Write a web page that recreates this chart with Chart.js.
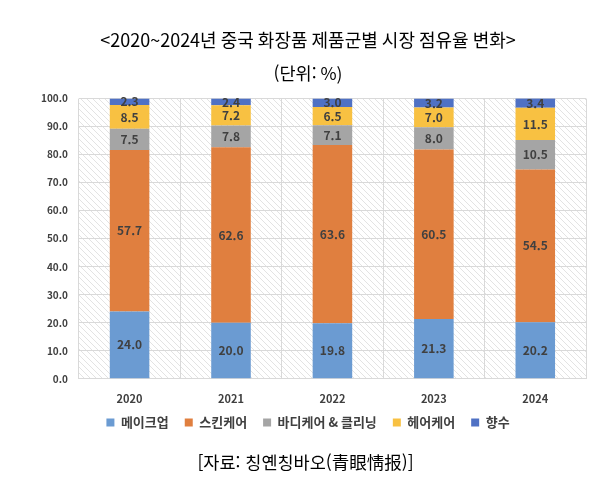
<!DOCTYPE html>
<html lang="ko">
<head>
<meta charset="utf-8">
<script src="https://cdn.jsdelivr.net/npm/chart.js@4"></script>
<style>
  html, body { margin: 0; padding: 0; background: #fff; }
  #wrap { position: relative; width: 611px; height: 494px; }
  #source {
    position: absolute; left: 0; width: 611px; top: 449px;
    text-align: center; font-family: "Noto Sans CJK KR", sans-serif;
    font-size: 17.5px; color: #000;
  }
</style>
</head>
<body>
<div id="wrap">
  <canvas id="chart" width="611" height="494"></canvas>
  <div id="source">[자료: 칭옌칭바오(青眼情报)]</div>
</div>
<script>
// 데이터
const years = ['2020', '2021', '2022', '2023', '2024'];
const makeup = [24.0, 20.0, 19.8, 21.3, 20.2];
const skincare = [57.7, 62.6, 63.6, 60.5, 54.5];
const bodyCleansing = [7.5, 7.8, 7.1, 8.0, 10.5];
const haircare = [8.5, 7.2, 6.5, 7.0, 11.5];
const perfume = [2.3, 2.4, 3.0, 3.2, 3.4];

const FONT = '"Noto Sans CJK KR", sans-serif';

// 플롯 영역 빗금 배경
function hatchPattern() {
  const c = document.createElement('canvas');
  c.width = 6; c.height = 6;
  const g = c.getContext('2d');
  g.fillStyle = '#ffffff';
  g.fillRect(0, 0, 6, 6);
  g.strokeStyle = '#e3e3e3';
  g.lineWidth = 1;
  g.beginPath();
  g.moveTo(0, 0); g.lineTo(6, 6);
  g.moveTo(-3, 3); g.lineTo(3, 9);
  g.moveTo(3, -3); g.lineTo(9, 3);
  g.stroke();
  return g.createPattern(c, 'repeat');
}

const bgPlugin = {
  id: 'hatchBg',
  beforeDraw(chart) {
    const { ctx, chartArea: a } = chart;
    ctx.save();
    ctx.fillStyle = hatchPattern();
    ctx.fillRect(a.left, a.top, a.right - a.left, a.bottom - a.top);
    ctx.restore();
  }
};

// 범례를 x축 라벨 쪽으로 조금 올림
const legendShift = {
  id: 'legendShift',
  afterLayout(chart) {
    chart.legend.top -= 18;
    chart.legend.bottom -= 18;
  }
};

// 막대 안 값 표시
const labelPlugin = {
  id: 'barLabels',
  afterDatasetsDraw(chart) {
    const ctx = chart.ctx;
    ctx.save();
    ctx.font = 'bold 12px ' + FONT;
    ctx.fillStyle = '#404040';
    ctx.textAlign = 'center';
    ctx.textBaseline = 'middle';
    chart.data.datasets.forEach((ds, i) => {
      const meta = chart.getDatasetMeta(i);
      meta.data.forEach((bar, j) => {
        const y = (bar.y + bar.base) / 2;
        ctx.fillText(ds.data[j].toFixed(1), bar.x, y);
      });
    });
    ctx.restore();
  }
};

new Chart(document.getElementById('chart'), {
  type: 'bar',
  data: {
    labels: years,
    datasets: [
      { label: '메이크업', data: makeup, backgroundColor: '#6b9bd2' },
      { label: '스킨케어', data: skincare, backgroundColor: '#e07f3f' },
      { label: '바디케어 & 클리닝', data: bodyCleansing, backgroundColor: '#a5a5a5' },
      { label: '헤어케어', data: haircare, backgroundColor: '#f8c142' },
      { label: '향수', data: perfume, backgroundColor: '#4f71c4' }
    ]
  },
  options: {
    responsive: false,
    animation: false,
    layout: { padding: { left: 30, right: 25, top: 10, bottom: 37 } },
    datasets: { bar: { barPercentage: 0.39, categoryPercentage: 1.0 } },
    scales: {
      x: {
        stacked: true,
        grid: { color: '#d9d9d9', drawTicks: false },
        border: { color: '#d9d9d9' },
        ticks: { color: '#404040', font: { family: FONT, size: 11, weight: 'bold' }, padding: 13 }
      },
      y: {
        stacked: true,
        min: 0, max: 100,
        grid: { color: '#d9d9d9', drawTicks: false },
        border: { display: false },
        ticks: {
          stepSize: 10, padding: 11,
          color: '#404040', font: { family: FONT, size: 10, weight: 'bold' },
          callback: v => v.toFixed(1)
        }
      }
    },
    plugins: {
      title: {
        display: true,
        text: '<2020~2024년 중국 화장품 제품군별 시장 점유율 변화>',
        color: '#000', font: { family: FONT, size: 18, weight: 'normal' },
        padding: { top: 19, bottom: 9 }
      },
      subtitle: {
        display: true,
        text: '(단위: %)',
        color: '#000', font: { family: FONT, size: 17.5, weight: 'normal' },
        padding: { top: 3, bottom: 15 }
      },
      legend: {
        position: 'bottom',
        labels: {
          boxWidth: 8, boxHeight: 8, padding: 16,
          color: '#404040', font: { family: FONT, size: 13, weight: 'bold' }
        }
      },
      tooltip: { enabled: false }
    }
  },
  plugins: [bgPlugin, legendShift, labelPlugin]
});
</script>
</body>
</html>
